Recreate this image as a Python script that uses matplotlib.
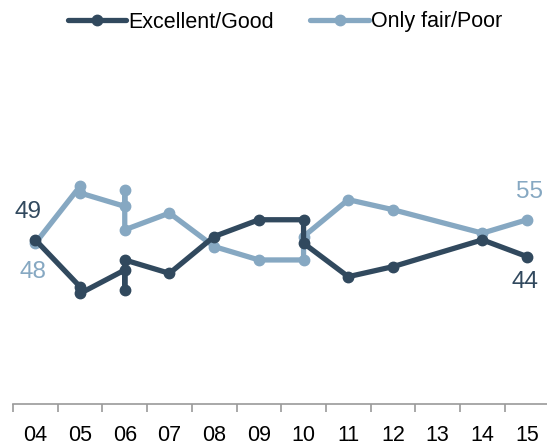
import matplotlib
matplotlib.use('Agg')
from matplotlib import pyplot as plt
import numpy as np

# survey years (some years have several readings)
years = [2004, 2005, 2005, 2006, 2006, 2006, 2007, 2008, 2009, 2010, 2010, 2011, 2012, 2014, 2015]
excellent_good = [49, 35, 33, 40, 34, 43, 39, 50, 55, 55, 48, 38, 41, 49, 44]
fair_poor = [48, 65, 63, 59, 64, 52, 57, 47, 43, 43, 50, 61, 58, 51, 55]
tick_years = list(range(2004, 2016))
tick_labels = ['04', '05', '06', '07', '08', '09', '10', '11', '12', '13', '14', '15']

dark = '#31495E'
light = '#86A8C2'

plt.rcParams['font.family'] = ['Liberation Sans', 'DejaVu Sans']

fig = plt.figure(figsize=(5.47, 4.45), dpi=100)
ax = fig.add_axes([13/547, 41/445, 534/547, 335/445])

x = np.array(years) + 0.5
ax.plot(x, excellent_good, color=dark, lw=3.8, marker='o', ms=7.5,
        solid_capstyle='round', solid_joinstyle='round', label='Excellent/Good', zorder=3)
ax.plot(x, fair_poor, color=light, lw=3.8, marker='o', ms=7.5,
        solid_capstyle='round', solid_joinstyle='round', label='Only fair/Poor', zorder=2)

ax.set_xlim(2004, 2004 + 534/44.7)
ax.set_ylim(0, 100)

ax.set_xticks(tick_years)
ax.set_xticklabels([])
ax.set_xticks(np.array(tick_years) + 0.5, minor=True)
ax.set_xticklabels(tick_labels, minor=True, fontsize=15.5)
ax.tick_params(axis='x', which='major', length=6, width=1.2, color='#9a9a9a')
ax.tick_params(axis='x', which='minor', length=0, pad=15)
ax.set_yticks([])
for s in ['left', 'top', 'right']:
    ax.spines[s].set_visible(False)
ax.spines['bottom'].set_color('#9a9a9a')
ax.spines['bottom'].set_linewidth(1.2)

# end labels
ax.annotate(str(excellent_good[0]), (x[0], excellent_good[0]), xytext=(-5, 20),
            textcoords='offset points', ha='center', va='center', fontsize=17.5, color=dark)
ax.annotate(str(fair_poor[0]), (x[0], fair_poor[0]), xytext=(-1.5, -21),
            textcoords='offset points', ha='center', va='center', fontsize=17.5, color=light)
ax.annotate(str(fair_poor[-1]), (x[-1], fair_poor[-1]), xytext=(2, 20),
            textcoords='offset points', ha='center', va='center', fontsize=17.5, color=light)
ax.annotate(str(excellent_good[-1]), (x[-1], excellent_good[-1]), xytext=(-1.5, -18.5),
            textcoords='offset points', ha='center', va='center', fontsize=17.5, color=dark)

fig.legend(loc='center', bbox_to_anchor=(285/547, 1 - 22/445), ncol=2, frameon=False,
           fontsize=15.5, handlelength=2.7, handletextpad=0.1, columnspacing=1.7)

plt.savefig('out.png', dpi=100)
